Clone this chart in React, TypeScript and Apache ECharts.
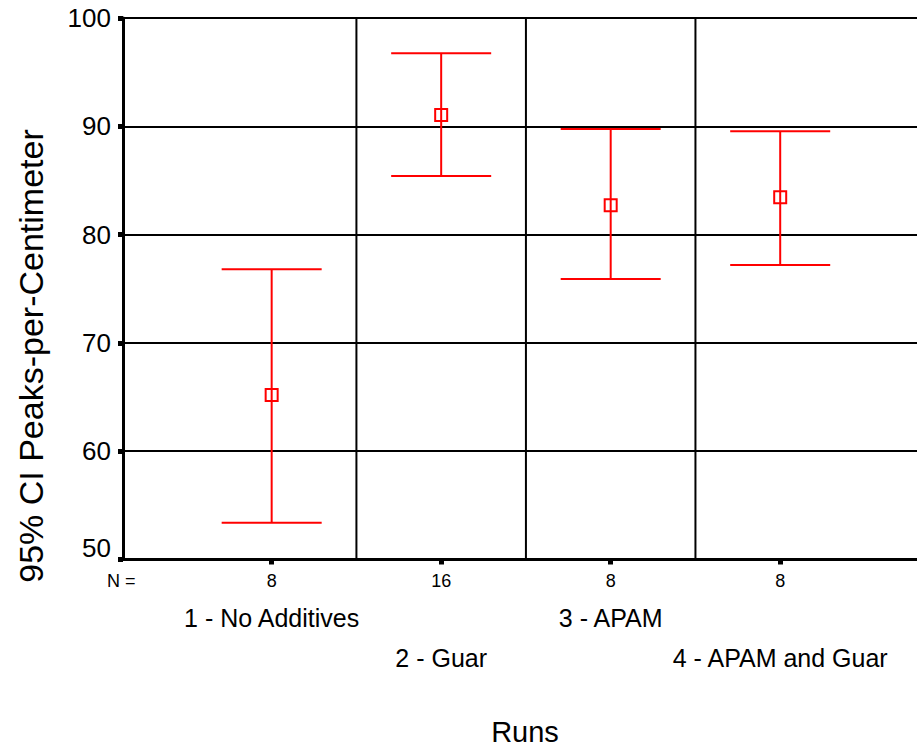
import React, { useEffect, useRef } from "react";
import * as echarts from "echarts";

// Group labels, group sizes and 95% confidence intervals of peaks per centimetre
const categories = ["1 - No Additives", "2 - Guar", "3 - APAM", "4 - APAM and Guar"];
const nCounts = [8, 16, 8, 8];
const lower = [53.4, 85.4, 75.9, 77.2];
const means = [65.2, 91.05, 82.7, 83.45];
const upper = [76.8, 96.75, 89.75, 89.55];

// Value-axis settings
const yMin = 50;
const yMax = 100;
const yStep = 10;

const FONT = "'Liberation Sans', Arial, Helvetica, sans-serif";
const RED = "#ff0000";

// Group positions along the x value axis and the dividers halfway between them
const positions = categories.map((_, i) => i + 1);
const dividers = positions.slice(0, -1).map((p) => p + 0.5);
const xMin = 0.123;
const xMax = 4.807;
const CAP_WIDTH = 0.59; // in x-axis units

const ciData = positions.map((p, i) => [p, lower[i], means[i], upper[i]]);

export default function App() {
  const ref = useRef<HTMLDivElement>(null);

  useEffect(() => {
    if (!ref.current) return;
    const chart = echarts.init(ref.current, null, { renderer: "svg" });

    const option: any = {
      animation: false,
      backgroundColor: "#ffffff",
      grid: {
        left: 123,
        top: 18,
        width: 794,
        height: 541.5,
        containLabel: false,
        outerBoundsMode: "none",
      },
      xAxis: {
        type: "value",
        min: xMin,
        max: xMax,
        splitLine: { show: false },
        axisLine: { show: true, onZero: false, lineStyle: { color: "#000", width: 3 } },
        axisTick: {
          show: true,
          customValues: positions,
          length: 5,
          lineStyle: { color: "#000", width: 5 },
        },
        axisLabel: {
          show: true,
          customValues: positions,
          hideOverlap: false,
          margin: 12,
          color: "#000",
          fontFamily: FONT,
          formatter: (v: number) => {
            const i = Math.round(v) - 1;
            if (i < 0 || i >= categories.length) return "";
            const row = i % 2 === 0 ? "c" : "c2";
            return `{n|${nCounts[i]}}\n{${row}|${categories[i]}}`;
          },
          rich: {
            n: { fontSize: 18, lineHeight: 18, fontFamily: FONT, color: "#000" },
            c: { fontSize: 25, lineHeight: 56, fontFamily: FONT, color: "#000" },
            c2: { fontSize: 25, lineHeight: 136, fontFamily: FONT, color: "#000" },
          },
        },
        name: "Runs",
        nameLocation: "middle",
        nameGap: 158,
        nameTextStyle: { fontSize: 29, fontFamily: FONT, color: "#000", padding: [0, 0, 0, 10] },
      },
      yAxis: {
        type: "value",
        min: yMin,
        max: yMax,
        interval: yStep,
        axisLine: { show: true, lineStyle: { color: "#000", width: 3 } },
        axisTick: { show: true, length: 5, lineStyle: { color: "#000", width: 5 } },
        axisLabel: {
          margin: 12,
          fontSize: 26,
          fontFamily: FONT,
          color: "#000",
          // the lowest label sits a little above its tick
          formatter: (v: number) => (v === yMin ? `{lift|${v}}` : `${v}`),
          rich: {
            lift: { fontSize: 26, fontFamily: FONT, color: "#000", padding: [0, 0, 24, 0] },
          },
        },
        splitLine: { show: true, lineStyle: { color: "#000", width: 2 } },
      },
      graphic: [
        {
          type: "text",
          left: 107,
          top: 572,
          style: { text: "N =", fontSize: 18, fontFamily: FONT, fill: "#000" },
        },
        {
          type: "text",
          x: 31,
          y: 356,
          rotation: Math.PI / 2,
          style: {
            text: "95% CI Peaks-per-Centimeter",
            fontSize: 34,
            fontFamily: FONT,
            fill: "#000",
            align: "center",
            verticalAlign: "middle",
          },
        },
      ],
      series: [
        {
          // vertical dividers between groups
          type: "custom",
          silent: true,
          data: dividers.map((d) => [d]),
          renderItem: (_params: any, api: any) => {
            const x = api.value(0);
            const a = api.coord([x, yMax]);
            const b = api.coord([x, yMin]);
            return {
              type: "line",
              shape: { x1: a[0], y1: a[1], x2: b[0], y2: b[1] },
              style: { stroke: "#000", lineWidth: 2 },
            };
          },
          z: 1,
        },
        {
          // confidence-interval bars with mean markers
          type: "custom",
          silent: true,
          data: ciData,
          renderItem: (_params: any, api: any) => {
            const x = api.value(0);
            const lo = api.coord([x, api.value(1)]);
            const mid = api.coord([x, api.value(2)]);
            const hi = api.coord([x, api.value(3)]);
            const half = api.size([CAP_WIDTH, 0])[0] / 2;
            const s = 12;
            const lineStyle = { stroke: RED, lineWidth: 2, fill: "none" };
            return {
              type: "group",
              children: [
                { type: "line", shape: { x1: hi[0], y1: hi[1], x2: lo[0], y2: lo[1] }, style: lineStyle },
                { type: "line", shape: { x1: hi[0] - half, y1: hi[1], x2: hi[0] + half, y2: hi[1] }, style: lineStyle },
                { type: "line", shape: { x1: lo[0] - half, y1: lo[1], x2: lo[0] + half, y2: lo[1] }, style: lineStyle },
                {
                  type: "rect",
                  shape: { x: mid[0] - s / 2, y: mid[1] - s / 2, width: s, height: s },
                  style: { stroke: RED, lineWidth: 2, fill: "none" },
                },
              ],
            };
          },
          z: 5,
        },
      ],
    };

    chart.setOption(option);
    return () => chart.dispose();
  }, []);

  return (
    <div
      ref={ref}
      style={{ position: "absolute", left: 0, top: 0, width: 917, height: 747 }}
    />
  );
}
